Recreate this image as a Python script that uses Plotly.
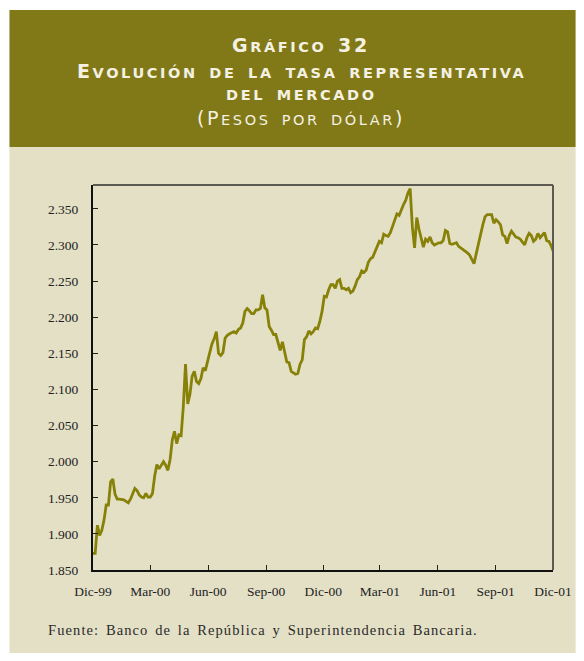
import pandas as pd
import plotly.graph_objects as go

# Tasa representativa del mercado, dos observaciones por semana (pesos por dólar)
fechas = pd.date_range("1999-12-01", periods=210, freq="84h")
trm = [
    1873, 1873, 1912, 1898, 1905, 1919, 1940, 1940, 1972, 1976,
    1955, 1948, 1948, 1948, 1947, 1945, 1943, 1948, 1955, 1963,
    1960, 1954, 1951, 1950, 1956, 1951, 1951, 1956, 1980, 1996,
    1990, 1995, 2000, 1995, 1988, 2003, 2030, 2042, 2025, 2037,
    2036, 2076, 2135, 2080, 2093, 2118, 2125, 2111, 2108, 2115,
    2130, 2126, 2141, 2151, 2163, 2170, 2180, 2150, 2147, 2151,
    2171, 2175, 2177, 2178, 2180, 2178, 2183, 2185, 2192, 2208,
    2212, 2209, 2205, 2205, 2210, 2210, 2212, 2231, 2213, 2210,
    2187, 2182, 2176, 2176, 2165, 2154, 2166, 2152, 2138, 2137,
    2125, 2123, 2121, 2122, 2135, 2141, 2169, 2173, 2181, 2177,
    2180, 2185, 2184, 2194, 2208, 2229, 2228, 2238, 2245, 2245,
    2240, 2250, 2252, 2240, 2240, 2238, 2240, 2234, 2236, 2243,
    2252, 2256, 2264, 2262, 2265, 2276, 2281, 2283, 2291, 2297,
    2305, 2303, 2315, 2313, 2312, 2317, 2325, 2333, 2343, 2341,
    2350, 2356, 2362, 2372, 2378, 2325, 2296, 2338, 2322, 2308,
    2297, 2308, 2305, 2311, 2303, 2300, 2302, 2303, 2303, 2306,
    2320, 2318, 2302, 2301, 2302, 2303, 2298, 2296, 2293, 2291,
    2289, 2286, 2280, 2274, 2288, 2303, 2316, 2328, 2339, 2342,
    2342, 2342, 2330, 2335, 2332, 2328, 2314, 2312, 2302, 2313,
    2319, 2315, 2311, 2310, 2308, 2304, 2300, 2310, 2316, 2313,
    2305, 2308, 2316, 2310, 2313, 2317, 2306, 2305, 2299, 2291,
]

x_ticks = ["1999-12-01", "2000-03-01", "2000-06-01", "2000-09-01", "2000-12-01",
           "2001-03-01", "2001-06-01", "2001-09-01", "2001-12-01"]
x_labels = ["Dic-99", "Mar-00", "Jun-00", "Sep-00", "Dic-00",
            "Mar-01", "Jun-01", "Sep-01", "Dic-01"]
y_ticks = [1850, 1900, 1950, 2000, 2050, 2100, 2150, 2200, 2250, 2300, 2350]

W, H = 584, 661
L, R, T, B = 93, 561, 185, 570

BEIGE = "#e4e0c6"
OLIVE = "#817918"
LINE = "#878108"

def px(x):
    return (x - L) / (R - L)

def py(y):
    return (B - y) / (B - T)

fig = go.Figure()
fig.add_trace(go.Scatter(x=fechas, y=trm, mode="lines",
                         line=dict(color=LINE, width=2.8), hoverinfo="skip"))

serif = "Liberation Serif, Times New Roman, serif"
axis_common = dict(showgrid=False, zeroline=False, ticks="inside",
                   tickcolor="#222", ticklen=5, tickwidth=1.3,
                   showline=True, linecolor="#111", linewidth=2,
                   tickfont=dict(family=serif, size=13.5, color="#222"))

fig.update_xaxes(range=["1999-12-01", "2001-12-01"], tickvals=x_ticks,
                 ticktext=x_labels, ticklabelstandoff=8, **axis_common)
fig.update_yaxes(range=[1850, 2383], tickvals=y_ticks, tickformat=",.0f",
                 ticklabelstandoff=10, **axis_common)

shapes = [
    # fondo beige de la página
    dict(type="rect", xref="paper", yref="paper", layer="below",
         x0=px(8), x1=px(584), y0=py(653), y1=py(147),
         fillcolor=BEIGE, line=dict(width=0)),
    # banda del título
    dict(type="rect", xref="paper", yref="paper", layer="below",
         x0=px(8), x1=px(584), y0=py(147), y1=py(10),
         fillcolor=OLIVE, line=dict(width=0)),
    # bordes superior y derecho del área del gráfico
    dict(type="line", xref="paper", yref="paper", x0=0, x1=1, y0=1, y1=1,
         line=dict(color="#5c5b52", width=2)),
    dict(type="line", xref="paper", yref="paper", x0=1, x1=1, y0=0, y1=1,
         line=dict(color="#5c5b52", width=2)),
]

def smallcaps(big, small, sp, ws):
    st = f"letter-spacing:{sp}px;word-spacing:{ws}px"
    return (f'<span style="font-size:{big}px;{st}">',
            f'<span style="font-size:{small}px;{st}">')

B1, S1 = smallcaps(19, 14.5, 2.6, 4)
titulo = [
    (f"{B1}G</span>{S1}RÁFICO </span>{B1}32</span>", 45),
    (f"{B1}E</span>{S1}VOLUCIÓN DE LA TASA REPRESENTATIVA</span>", 71),
    (f"{S1}DEL MERCADO</span>", 95),
    (f"{B1}(P</span>{S1}ESOS POR DÓLAR</span>{B1})</span>", 118),
]
title_font = "DejaVu Sans, Verdana, sans-serif"
annotations = []
for i, (txt, yy) in enumerate(titulo):
    annotations.append(dict(
        text=(txt if i == 3 else f"<b>{txt}</b>"), xref="paper", yref="paper",
        x=px(305), y=py(yy), xanchor="center", yanchor="middle",
        showarrow=False, font=dict(family=title_font, size=12, color="#f4f1e2")))

annotations.append(dict(
    text='<span style="letter-spacing:1.1px;word-spacing:2px">Fuente: Banco de la República y Superintendencia Bancaria.</span>',
    xref="paper", yref="paper", x=px(45), y=py(630), xanchor="left",
    yanchor="middle", showarrow=False,
    font=dict(family=serif, size=14.5, color="#2a2a2a")))

fig.update_layout(
    width=W, height=H, margin=dict(l=L, r=W - R, t=T, b=H - B),
    paper_bgcolor="white", plot_bgcolor=BEIGE, showlegend=False,
    separators=",.", shapes=shapes, annotations=annotations,
)

fig.write_html("out.html")
